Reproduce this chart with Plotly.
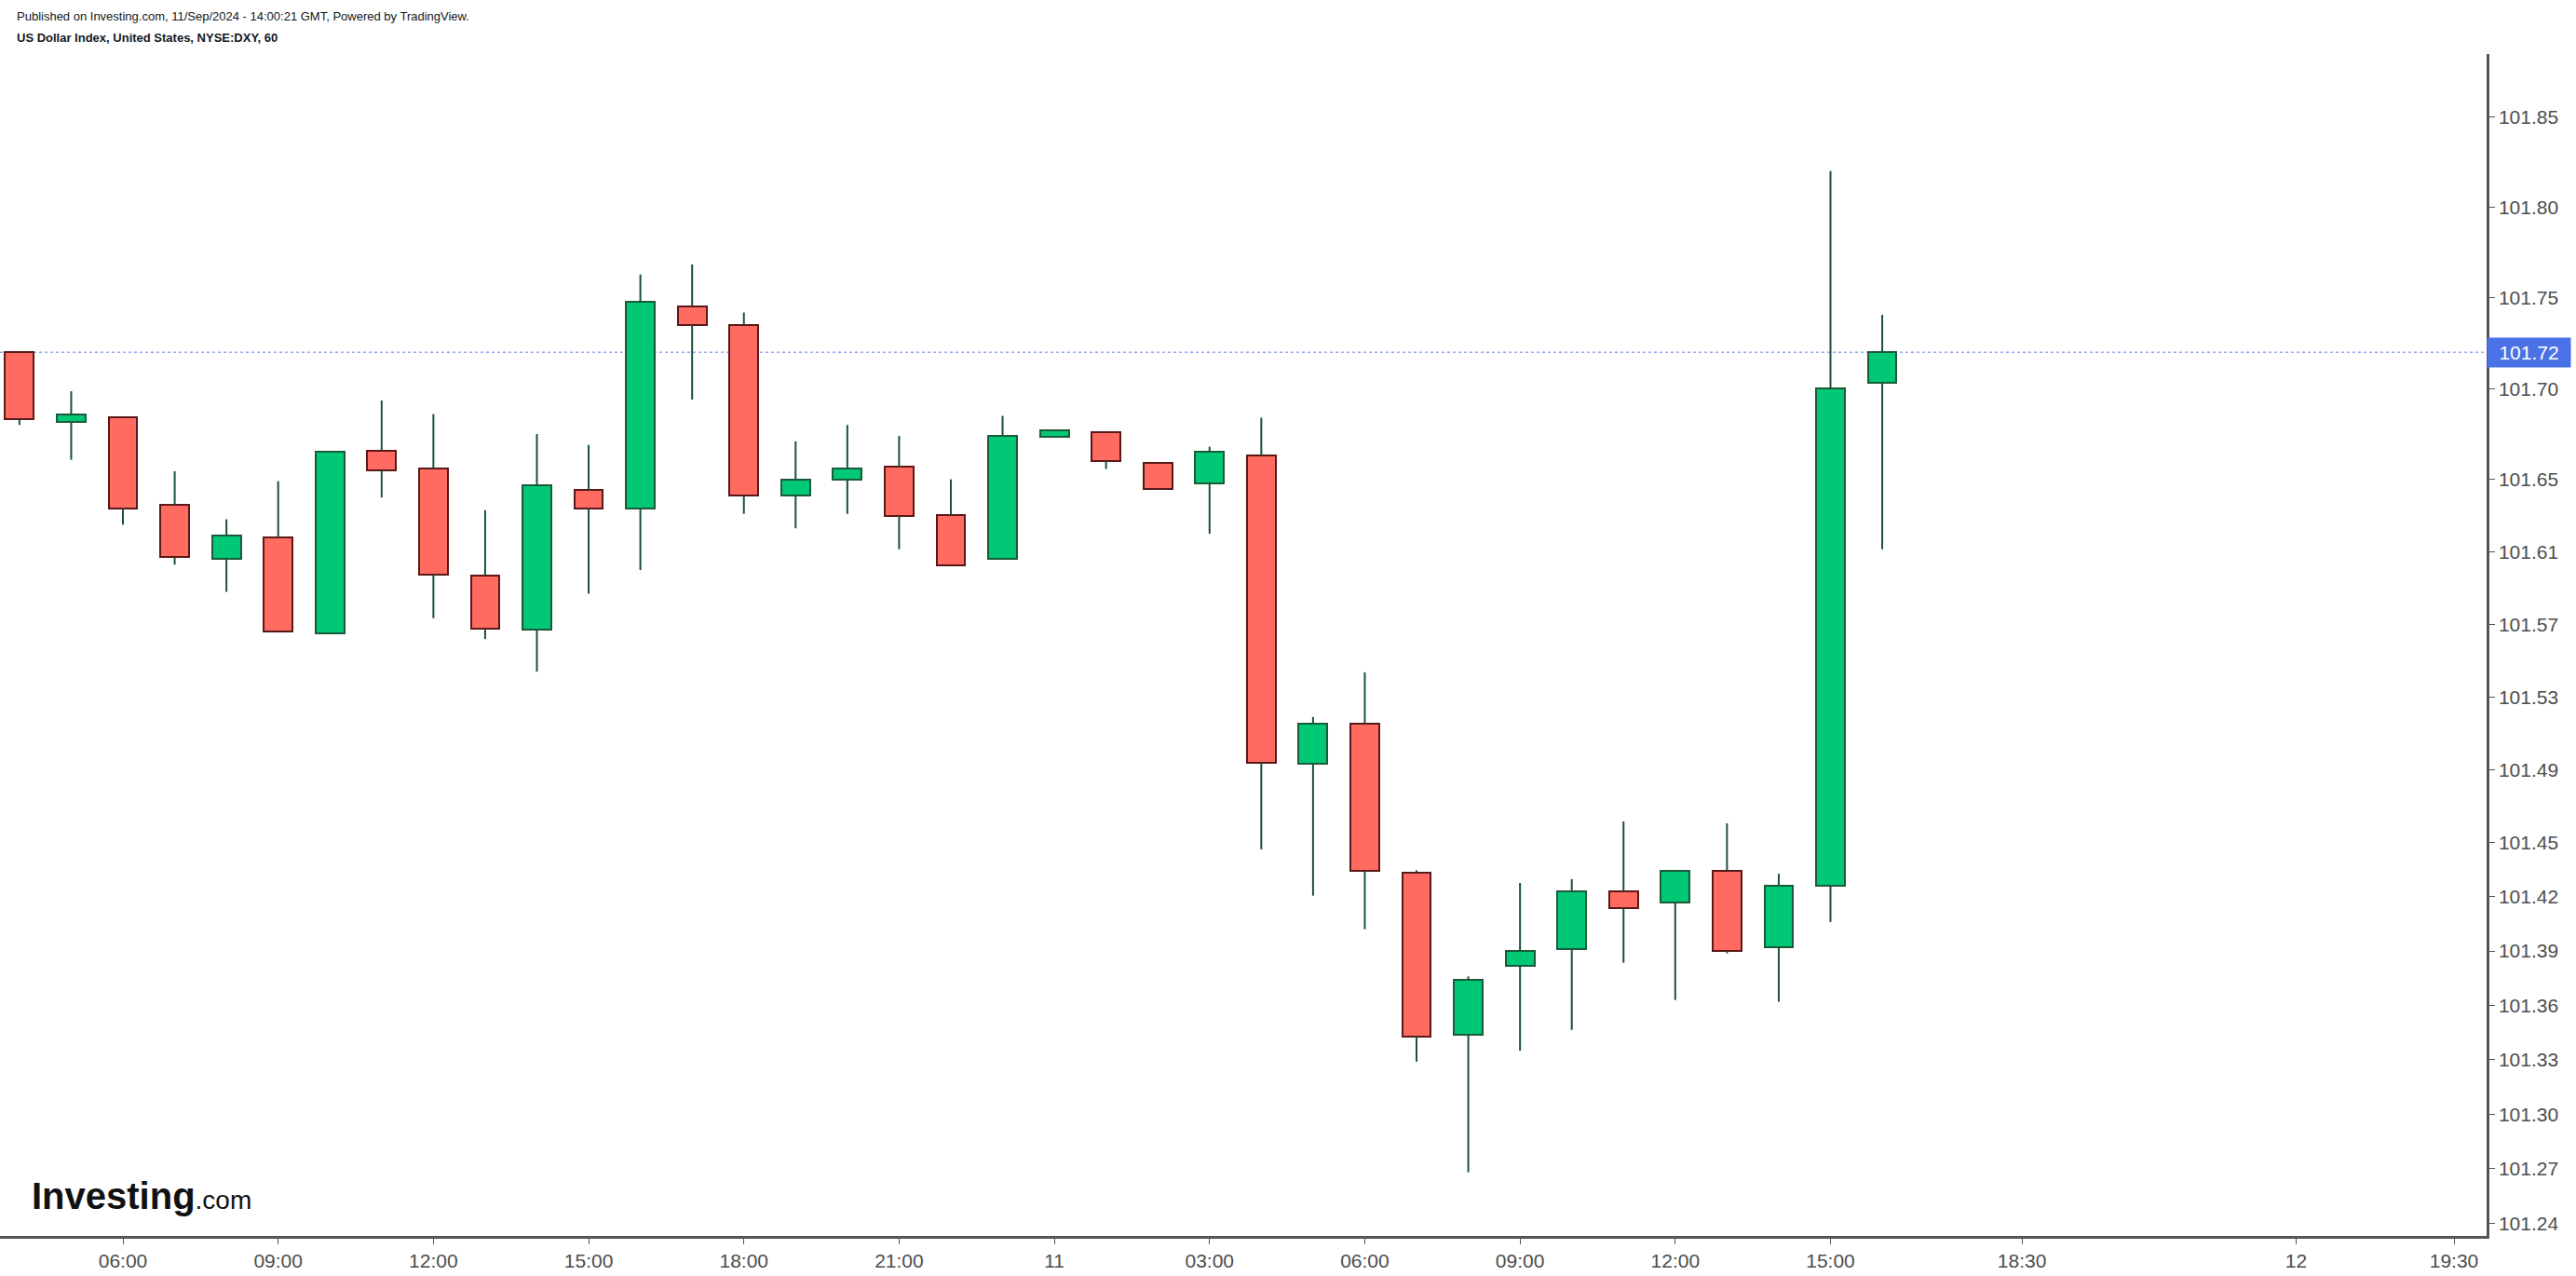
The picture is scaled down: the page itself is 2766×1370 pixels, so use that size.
import plotly.graph_objects as go

# ---- data (hours since 10/Sep 00:00, hourly candles) ----
hours = list(range(4, 41))
opens = [101.720, 101.6815, 101.684, 101.636, 101.606, 101.618, 101.565, 101.666, 101.656,
         101.597, 101.567, 101.644, 101.634, 101.7455, 101.735, 101.641, 101.650, 101.657,
         101.6305, 101.606, 101.6733, 101.676, 101.659, 101.648, 101.663, 101.493, 101.5155,
         101.433, 101.344, 101.382, 101.391, 101.423, 101.4167, 101.4344, 101.392, 101.426, 101.703]
highs = [101.720, 101.6986, 101.684, 101.6545, 101.628, 101.649, 101.665, 101.6935, 101.686,
         101.633, 101.675, 101.669, 101.763, 101.7685, 101.742, 101.671, 101.680, 101.674,
         101.650, 101.685, 101.677, 101.676, 101.659, 101.668, 101.684, 101.519, 101.5436,
         101.4345, 101.376, 101.4275, 101.4296, 101.4614, 101.4344, 101.4604, 101.4326, 101.820, 101.7407]
lows = [101.680, 101.6608, 101.625, 101.603, 101.588, 101.566, 101.565, 101.640, 101.5735,
        101.562, 101.544, 101.587, 101.600, 101.694, 101.631, 101.623, 101.631, 101.6115,
        101.6026, 101.606, 101.673, 101.6557, 101.6445, 101.620, 101.446, 101.4205, 101.402,
        101.329, 101.268, 101.335, 101.3465, 101.3835, 101.363, 101.3887, 101.362, 101.406, 101.6115]
closes = [101.683, 101.686, 101.634, 101.607, 101.619, 101.566, 101.665, 101.655, 101.5975,
          101.5675, 101.647, 101.634, 101.748, 101.735, 101.641, 101.650, 101.656, 101.630,
          101.6026, 101.674, 101.6769, 101.660, 101.6445, 101.6654, 101.494, 101.5155, 101.434,
          101.343, 101.374, 101.390, 101.423, 101.4136, 101.4344, 101.390, 101.426, 101.700, 101.720]

x_tick_pos = [6, 9, 12, 15, 18, 21, 24, 27, 30, 33, 36, 39, 42.7, 48, 51.05]
x_tick_labels = ["06:00", "09:00", "12:00", "15:00", "18:00", "21:00", "11", "03:00",
                 "06:00", "09:00", "12:00", "15:00", "18:30", "12", "19:30"]
y_tick_labels = ["101.85", "101.80", "101.75", "101.70", "101.65", "101.61", "101.57", "101.53",
                 "101.49", "101.45", "101.42", "101.39", "101.36", "101.33", "101.30", "101.27", "101.24"]

# ---- styles ----
UP_FILL = "#00c875"
UP_LINE = "#1b5a3a"
DN_FILL = "#ff6a61"
DN_LINE = "#5a1818"
WICK = "#1a5236"
FONT = "Liberation Sans, Arial, sans-serif"
AX = "#555555"
TXT = "#4d4d4d"

fig = go.Figure()

# wicks (split above / below body so they never cross the body)
wx, wy = [], []
for h, o, hi, lo, c in zip(hours, opens, highs, lows, closes):
    top, bot = max(o, c), min(o, c)
    if hi > top:
        wx += [h, h, None]
        wy += [top, hi, None]
    if lo < bot:
        wx += [h, h, None]
        wy += [lo, bot, None]
fig.add_trace(go.Scatter(x=wx, y=wy, mode="lines", line=dict(color=WICK, width=2),
                         hoverinfo="skip", showlegend=False))

# bodies
for up in (True, False):
    bx, bb, bh = [], [], []
    for h, o, c in zip(hours, opens, closes):
        if (c >= o) == up:
            bx.append(h)
            bb.append(min(o, c))
            bh.append(max(abs(c - o), 0.0006))
    fig.add_trace(go.Bar(
        x=bx, y=bh, base=bb, width=0.555,
        marker=dict(color=UP_FILL if up else DN_FILL,
                    line=dict(color=UP_LINE if up else DN_LINE, width=2)),
        hoverinfo="skip", showlegend=False))

last = closes[-1]

fig.add_shape(type="line", xref="paper", x0=0, x1=1, yref="y", y0=last, y1=last,
              line=dict(color="rgba(80,110,235,0.6)", width=1.5, dash="dot"), layer="below")

fig.add_annotation(xref="paper", x=1, xanchor="left", yref="y", y=last, yanchor="middle",
                   text=f"{last:.2f}", showarrow=False, bgcolor="#4a72e6",
                   width=89, height=31, borderpad=0, align="center",
                   font=dict(family=FONT, size=21, color="white"))

# header
fig.add_annotation(xref="paper", x=16 / 2670, xanchor="left", yref="paper", y=1.0319,
                   yanchor="middle", showarrow=False,
                   text="Published on Investing.com, 11/Sep/2024 - 14:00:21 GMT, Powered by TradingView.",
                   font=dict(family=FONT, size=13, color="#131722"))
fig.add_annotation(xref="paper", x=16 / 2670, xanchor="left", yref="paper", y=1.0140,
                   yanchor="middle", showarrow=False,
                   text="<b>US Dollar Index, United States, NYSE:DXY, 60</b>",
                   font=dict(family=FONT, size=13, color="#131722"))

# logo
fig.add_annotation(xref="paper", x=32 / 2670, xanchor="left", yref="paper", y=0.034,
                   yanchor="middle", showarrow=False,
                   text="<b>Investing</b><span style='font-size:28px'>.com</span>",
                   font=dict(family=FONT, size=40, color="#111111"))

fig.update_layout(
    width=2766, height=1370,
    margin=dict(l=0, r=96, t=58, b=43),
    paper_bgcolor="white", plot_bgcolor="white",
    showlegend=False, bargap=0,
    xaxis=dict(range=[3.624, 51.68], showgrid=False, zeroline=False,
               showline=True, linecolor=AX, linewidth=2.5,
               ticks="outside", ticklen=6, tickcolor=AX, tickwidth=1,
               tickvals=x_tick_pos, ticktext=x_tick_labels,
               tickfont=dict(family=FONT, size=21, color=TXT)),
    yaxis=dict(range=[101.2329, 101.8845], side="right", showgrid=False, zeroline=False,
               showline=True, linecolor=AX, linewidth=2.5,
               ticks="outside", ticklen=6, tickcolor=AX, tickwidth=1,
               tickvals=[float(t) for t in y_tick_labels], ticktext=y_tick_labels,
               tickfont=dict(family=FONT, size=21, color=TXT)),
)

fig.write_html("out.html")
